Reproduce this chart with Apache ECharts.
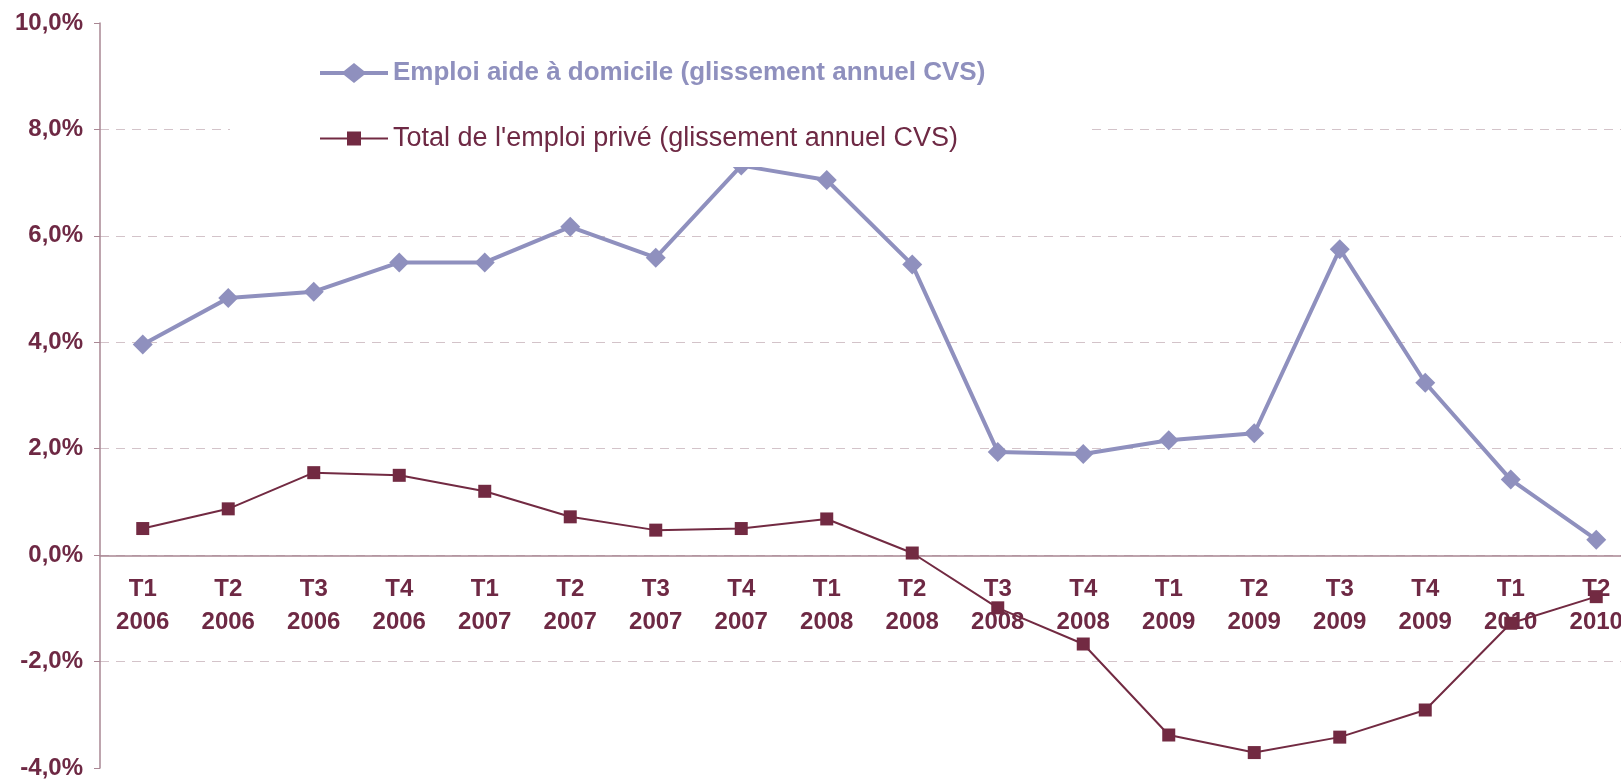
<!DOCTYPE html>
<html>
<head>
<meta charset="utf-8">
<script src="https://cdn.jsdelivr.net/npm/echarts@6/dist/echarts.min.js"></script>
<style>
  html, body { margin: 0; padding: 0; background: #fff; }
  #main { width: 1621px; height: 779px; }
</style>
</head>
<body>
<div id="main"></div>
<script>
// trimestres
const categories = [
  "T1\n2006", "T2\n2006", "T3\n2006", "T4\n2006",
  "T1\n2007", "T2\n2007", "T3\n2007", "T4\n2007",
  "T1\n2008", "T2\n2008", "T3\n2008", "T4\n2008",
  "T1\n2009", "T2\n2009", "T3\n2009", "T4\n2009",
  "T1\n2010", "T2\n2010"
];
// glissement annuel CVS, en %
const emploiAideDomicile = [3.96, 4.83, 4.95, 5.50, 5.50, 6.17, 5.59, 7.32, 7.05, 5.46, 1.94, 1.90, 2.16, 2.29, 5.75, 3.24, 1.42, 0.29];
const totalEmploiPrive = [0.50, 0.87, 1.55, 1.50, 1.20, 0.72, 0.47, 0.50, 0.68, 0.04, -0.99, -1.67, -3.38, -3.71, -3.42, -2.91, -1.28, -0.78];
const yTicks = { min: -4, max: 10, interval: 2 };

const names = [
  "Emploi aide à domicile (glissement annuel CVS)",
  "Total de l'emploi privé (glissement annuel CVS)"
];

const maroon = "#6E2944";
const lavande = "#8F90BE";
const axisCol = "#A98793";
const fontFam = "'Liberation Sans', Arial, sans-serif";

// icones de légende : trait + symbole
const iconDiamond = "path://M0,8H24L34,0L44,8H68V12H44L34,20L24,12H0Z";
const iconSquare = "path://M0,6H27V0H41V6H68V8H41V14H27V8H0Z";

let myChart = echarts.init(document.getElementById("main"));

let option = {
  animation: false,
  textStyle: { fontFamily: fontFam },
  grid: { left: 100, top: 23, right: -18, bottom: 11, containLabel: false, outerBoundsMode: "none" },
  legend: {
    orient: "vertical",
    left: 230,
    top: 30,
    padding: [30, 100, 15, 90],
    backgroundColor: "#fff",
    itemWidth: 68,
    itemHeight: 20,
    itemGap: 39,
    data: [
      { name: names[0], icon: iconDiamond, itemStyle: { color: lavande },
        textStyle: { color: lavande, fontWeight: "bold", fontSize: 26 } },
      { name: names[1], icon: iconSquare, itemStyle: { color: "#722A42" },
        textStyle: { color: maroon, fontWeight: "normal", fontSize: 27 } }
    ],
    textStyle: { fontFamily: fontFam, lineHeight: 26 }
  },
  xAxis: {
    type: "category",
    data: categories,
    position: "bottom",
    offset: -212,
    axisLine: { onZero: false, lineStyle: { color: axisCol, width: 1.5 } },
    axisTick: { length: 6, lineStyle: { color: axisCol } },
    axisLabel: {
      color: maroon,
      fontWeight: "bold",
      fontSize: 24,
      lineHeight: 33,
      margin: 17,
      interval: 0
    }
  },
  yAxis: {
    type: "value",
    min: yTicks.min,
    max: yTicks.max,
    interval: yTicks.interval,
    axisLine: { show: true, lineStyle: { color: axisCol, width: 1.5 } },
    axisTick: { show: true, length: 6, lineStyle: { color: axisCol } },
    axisLabel: {
      color: maroon,
      fontWeight: "bold",
      fontSize: 24,
      margin: 17,
      formatter: v => v.toFixed(1).replace(".", ",") + "%"
    },
    splitLine: {
      show: true,
      showMinLine: false,
      showMaxLine: false,
      lineStyle: { color: "#D3C3C9", type: [9, 7], width: 1 }
    }
  },
  series: [
    {
      name: names[0],
      type: "line",
      data: emploiAideDomicile,
      color: lavande,
      symbol: "diamond",
      symbolSize: 20,
      lineStyle: { width: 4 },
      itemStyle: { color: lavande }
    },
    {
      name: names[1],
      type: "line",
      data: totalEmploiPrive,
      color: maroon,
      symbol: "rect",
      symbolSize: 13,
      lineStyle: { width: 2 },
      itemStyle: { color: "#722A42" }
    }
  ]
};

myChart.setOption(option);
</script>
</body>
</html>
